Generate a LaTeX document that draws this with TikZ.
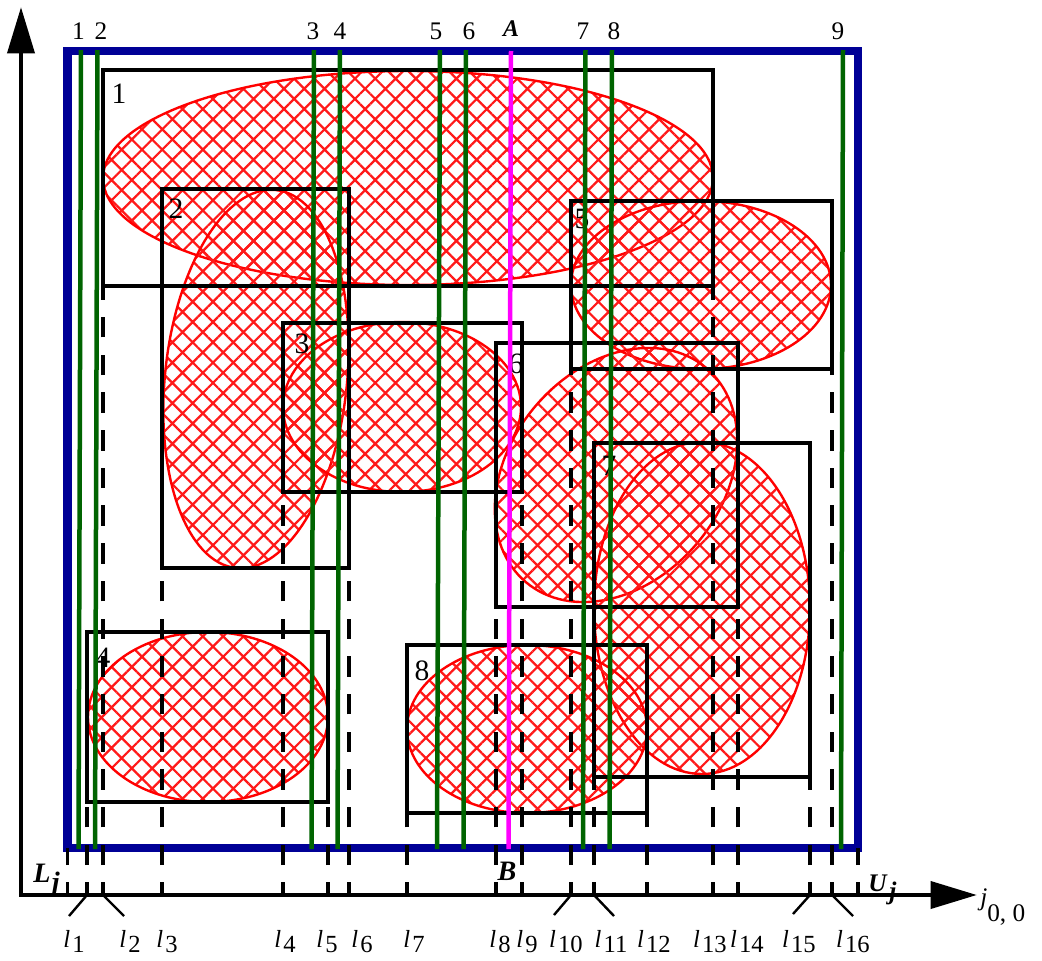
\documentclass[tikz,border=0pt]{standalone}
\usepackage{fontspec}
\setmainfont{Liberation Serif}
\usetikzlibrary{arrows.meta,patterns.meta}
\definecolor{frameblue}{RGB}{0,0,150}
\definecolor{cutgreen}{RGB}{0,100,0}
\definecolor{cutpink}{RGB}{255,0,255}
\newcommand{\lsub}[1]{\textit{l}\kern1.5pt\raisebox{-4pt}{#1}}
\tikzset{
  blob/.style={draw=red, line width=1.7pt,
    pattern={Hatch[angle=45,distance=10.2pt,line width=1.6pt]}, pattern color=red!90!white},
  box/.style={draw=black, line width=2.5pt},
  proj/.style={line width=2.4pt, dash pattern=on 14.5pt off 12.3pt, dash phase=5.5pt},
  lead/.style={line width=1.7pt},
  cut/.style={draw=cutgreen, line width=3.2pt},
  cutA/.style={draw=cutpink, line width=3.2pt},
  frame/.style={draw=frameblue, line width=6.2pt},
  axis/.style={line width=3.4pt},
  toplab/.style={anchor=base, inner sep=0pt, font=\fontsize{18}{21}\selectfont},
  boxnum/.style={anchor=base, inner sep=0pt, font=\fontsize{21}{24}\selectfont},
  botlab/.style={anchor=base, inner sep=0pt, font=\fontsize{17.5}{20}\selectfont},
}
\begin{document}
\begin{tikzpicture}[x=0.025cm,y=-0.025cm,>={Triangle[length=33pt,width=19pt]}]
  \useasboundingbox (0,0) rectangle (1042,961);
  \coordinate (o) at (21,895);
  \coordinate (yt) at (21,7);
  \coordinate (xt) at (977,895);
  % hatched regions
  \foreach \cx/\cy/\rx/\ry/\a in {408/178/305/107/0, 256/379/91/190/-6,
      402/407/119/85/0, 208/717/120/85/0, 701/285/130/84/0,
      616/475/140/106/50, 702/608/108/166/0, 527/729/120/84/0}
    \draw[blob, rotate around={\a:(\cx,\cy)}] (\cx,\cy) ellipse [x radius=\rx, y radius=\ry];
  % bounding boxes
  \foreach \n/\xa/\ya/\xb/\yb/\tx/\ty in {1/103/70/713/286/119/103, 2/162/189/349/568/176/218,
      3/283/323/522/492/302/353, 4/87/632/328/802/103/667, 5/571/201/832/369/582/228,
      6/496/343/738/607/516/373, 7/594/443/810/777/609/475, 8/407/645/647/813/422/680} {
    \draw[box] (\xa,\ya) coordinate (r\n-nw) rectangle (\xb,\yb) coordinate (r\n-se);
    \node[boxnum] (b\n) at (\tx,\ty) {\n};
  }
  % window
  \draw[frame] (67.5,51) coordinate (fr-nw) rectangle (858,848) coordinate (fr-se);
  % projections onto the axis
  \foreach \i/\c/\r in {1/r4-nw/4, 2/r1-nw/1, 3/r2-nw/2, 4/r3-nw/3, 5/r4-se/4, 6/r2-se/2,
      7/r8-nw/8, 8/r6-nw/6, 9/r3-se/3, 10/r5-nw/5, 11/r7-nw/7, 12/r8-se/8,
      13/r1-se/1, 14/r6-se/6, 15/r7-se/7, 16/r5-se/5}
    \draw[proj] (\c |- o) coordinate (f\i) -- (\c |- r\r-se);
  \draw[proj] (fr-nw |- o) coordinate (fL) -- (fr-nw |- fr-se);
  \draw[proj] (fr-se |- o) coordinate (fU) -- (fr-se);
  % sweep lines
  \foreach \k/\xt/\xb/\lx in {1/81/78.5/78.5, 2/97.5/95/101, 3/314/311.5/313, 4/340/337.5/340,
      5/440/437/436, 6/466/463.5/469, 7/585.5/583/583, 8/612/609.5/614, 9/843/841/838} {
    \draw[cut] (\xt,50) coordinate (c\k t) -- (\xb,849) coordinate (c\k b);
    \node[toplab] (n\k) at (\lx,39) {\k};
  }
  \draw[cutA] (511,51) coordinate (At) -- (508.5,849) coordinate (Bb);
  \node[anchor=base, inner sep=0pt, font=\fontsize{17}{20}\selectfont\bfseries\itshape] (nA) at (511,36) {A};
  \node[anchor=base, inner sep=0pt, font=\fontsize{20}{23}\selectfont\bfseries\itshape] (nB) at (507,880) {B};
  % axes
  \draw[axis,<->] (yt) -- (o) -- (xt);
  \node[anchor=base west, inner sep=0pt, font=\fontsize{20}{23}\selectfont\bfseries\itshape] (Lj) at (33,882) {L\kern1pt\raisebox{-7pt}{j}};
  \node[anchor=base west, inner sep=0pt, font=\fontsize{18}{21}\selectfont\bfseries\itshape] (Uj) at (868,891) {U\kern2pt\raisebox{-6pt}{j}};
  \node[anchor=base west, inner sep=0pt, font=\fontsize{18}{21}\selectfont] (jax) at (980,905) {\textit{j}\raisebox{-12pt}{0, 0}};
  % leaders to crowded labels
  \draw[lead] (f1) -- ++(-18,21) coordinate (e1);
  \draw[lead] (f2) -- ++(21,21) coordinate (e2);
  \draw[lead] (f10) -- ++(-17,20) coordinate (e10);
  \draw[lead] (f11) -- ++(20,21) coordinate (e11);
  \draw[lead] (f15) -- ++(-17,19) coordinate (e15);
  \draw[lead] (f16) -- ++(21,21) coordinate (e16);
  \foreach \i/\lx in {1/74, 2/130, 3/167, 4/285, 5/327, 6/362, 7/414, 8/500, 9/527,
      10/566, 11/611, 12/654, 13/710, 14/747, 15/799, 16/853}
    \node[botlab] (lab\i) at (\lx,947) {\lsub{\i}};
\end{tikzpicture}
\end{document}
